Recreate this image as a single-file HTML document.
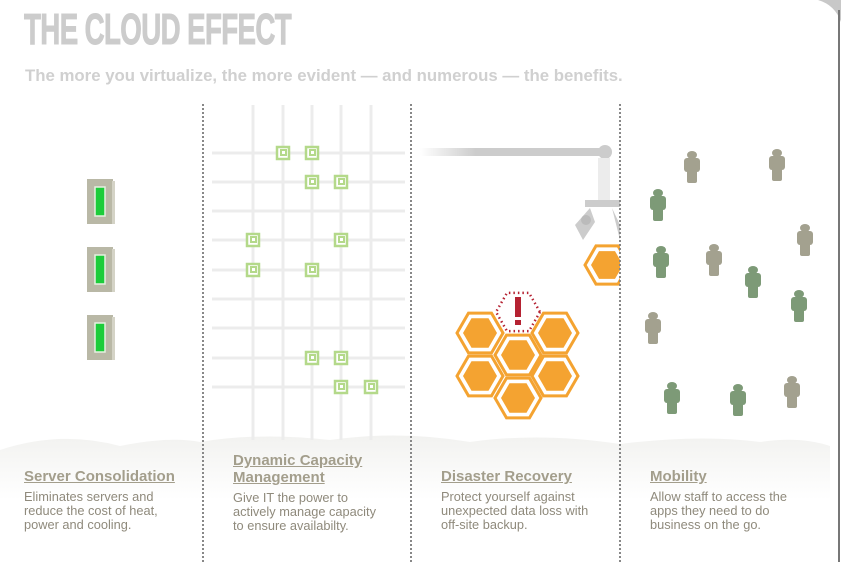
<!DOCTYPE html>
<html><head><meta charset="utf-8"><style>
body{margin:0;background:#fff;width:841px;height:562px;overflow:hidden;position:relative;font-family:"Liberation Sans",sans-serif}
.t{position:absolute;left:24px;top:5px;font:bold 44px "Liberation Sans Narrow","Liberation Sans",sans-serif;color:#cccccc;letter-spacing:-1px;transform:scaleX(.63);transform-origin:left top;-webkit-text-stroke:1px #cccccc}
.sub{position:absolute;left:25px;top:66px;font-weight:bold;font-size:16.8px;color:#d0d0d0;white-space:nowrap}
.col{position:absolute;top:466px;width:190px}
.col h3{margin:0 0 5px;font-size:15px;color:#a39e8c;text-decoration:underline;line-height:17px}
.col p{margin:0;font-size:12.8px;color:#8f8a7c;line-height:14px}
</style></head><body>
<svg width="841" height="562" style="position:absolute;left:0;top:0">
<defs><linearGradient id="cl" x1="0" y1="0" x2="0" y2="1"><stop offset="0" stop-color="#f2f2f0"/><stop offset="1" stop-color="#fff"/></linearGradient>
<linearGradient id="bar" x1="0" y1="0" x2="1" y2="0"><stop offset="0" stop-color="#fff"/><stop offset=".3" stop-color="#ccc"/><stop offset="1" stop-color="#ccc"/></linearGradient></defs>
<path d="M818 0 Q835 5 841 22 L841 0Z" fill="#c8c8c8"/>
<line x1="839" y1="10" x2="839" y2="562" stroke="#777" stroke-width="2"/>
<path d="M0 450 Q60 430 120 446 Q170 436 200 442 Q260 432 330 440 Q400 430 470 442 Q540 432 620 444 Q700 434 760 442 Q800 436 830 446 L830 500 L0 500Z" fill="url(#cl)"/>
<g id="grid" stroke="#ececec" stroke-width="3"></g>
<g id="sq"></g>
<g id="srv"></g>
<rect x="420" y="148" width="185" height="8" fill="url(#bar)"/>
<circle cx="605" cy="152" r="7" fill="#ccc"/>
<rect x="598" y="158" width="12" height="42" fill="#ececec"/>
<rect x="585" y="200" width="35" height="7" fill="#ccc"/>
<path d="M590 208 L575 225 L583 240 L595 222Z M612 208 L620 225 L620 240Z" fill="#ccc"/>
<circle cx="586" cy="220" r="5" fill="#bbb"/>
<g id="hex"></g>
<g id="ppl"></g>
<g stroke="#888" stroke-width="2" stroke-dasharray="2 2">
<line x1="203" y1="104" x2="203" y2="562"/><line x1="411" y1="104" x2="411" y2="562"/><line x1="620" y1="104" x2="620" y2="562"/></g>
</svg>
<div class="t">THE CLOUD EFFECT</div>
<div class="sub">The more you virtualize, the more evident — and numerous — the benefits.</div>
<div class="col" style="left:24px;top:468px"><h3>Server Consolidation</h3><p>Eliminates servers and<br>reduce the cost of heat,<br>power and cooling.</p></div>
<div class="col" style="left:233px;top:452px"><h3>Dynamic Capacity<br>Management</h3><p>Give IT the power to<br>actively manage capacity<br>to ensure availabilty.</p></div>
<div class="col" style="left:441px;top:468px"><h3>Disaster Recovery</h3><p>Protect yourself against<br>unexpected data loss with<br>off-site backup.</p></div>
<div class="col" style="left:650px;top:468px"><h3>Mobility</h3><p>Allow staff to access the<br>apps they need to do<br>business on the go.</p></div>
<script>
const NS='http://www.w3.org/2000/svg';
function mk(p,t,a){const e=document.createElementNS(NS,t);for(const k in a)e.setAttribute(k,a[k]);p.appendChild(e);return e;}
const vx=[253,283,312,341,371], hy=[153,182,211,240,270,299,328,358,387];
const g=document.getElementById('grid');
vx.forEach(x=>mk(g,'line',{x1:x,y1:105,x2:x,y2:440}));
hy.forEach(y=>mk(g,'line',{x1:212,y1:y,x2:405,y2:y}));
const sqs=[[283,153],[312,153],[312,182],[341,182],[253,240],[341,240],[253,270],[312,270],[312,358],[341,358],[341,387],[371,387]];
const sg=document.getElementById('sq');
sqs.forEach(([x,y])=>{mk(sg,'rect',{x:x-6,y:y-6,width:12,height:12,fill:'#fff',stroke:'#b4d98a','stroke-width':2.5});mk(sg,'rect',{x:x-2,y:y-3,width:5,height:5,fill:'none',stroke:'#b4d98a','stroke-width':2});});
const sv=document.getElementById('srv');
[179,247,315].forEach(y=>{const r=mk(sv,'rect',{x:87,y:y,width:26,height:45,fill:'#b9b8a6'});mk(sv,'rect',{x:112,y:y+2,width:3,height:43,fill:'#d4d3c6'});mk(sv,'rect',{x:95,y:y+8,width:10,height:29,fill:'#1ccc3a',stroke:'#e6f0e0','stroke-width':1.5});});
const hg=document.getElementById('hex');
function hp(cx,cy,r){let s=[];for(let i=0;i<6;i++){const a=Math.PI/3*i;s.push((cx+r*Math.cos(a)).toFixed(1)+','+(cy+r*Math.sin(a)).toFixed(1));}return s.join(' ');}
function hx(cx,cy){mk(hg,'polygon',{points:hp(cx,cy,23),fill:'#fff',stroke:'#f4a331','stroke-width':3});mk(hg,'polygon',{points:hp(cx,cy,17),fill:'#f4a331'});}
[[480,333],[555,333],[518,355],[480,376],[555,376],[518,398]].forEach(([x,y])=>hx(x,y));
mk(hg,'polygon',{points:hp(518,312,22),fill:'none',stroke:'#b52232','stroke-width':2.5,'stroke-dasharray':'1.5 3'});
mk(hg,'rect',{x:515,y:297,width:6,height:20,fill:'#b52232'});mk(hg,'rect',{x:515,y:320,width:6,height:5,fill:'#b52232'});
const cp=mk(hg,'clipPath',{id:'c1'});mk(cp,'rect',{x:570,y:230,width:50,height:70});
const h2=mk(hg,'g',{'clip-path':'url(#c1)'});
mk(h2,'polygon',{points:hp(607,265,22),fill:'#fff',stroke:'#f4a331','stroke-width':3});mk(h2,'polygon',{points:hp(607,265,16),fill:'#f4a331'});
const ppl=[[692,155,0],[777,153,0],[658,193,1],[805,228,0],[661,250,1],[714,248,0],[753,270,1],[799,294,1],[653,316,0],[672,386,1],[738,388,1],[792,380,0]];
const pg=document.getElementById('ppl');
ppl.forEach(([x,y,c])=>{const col=c?'#7d9a77':'#a3a18f';const p=mk(pg,'g',{fill:col});mk(p,'ellipse',{cx:x,cy:y,rx:5,ry:4});mk(p,'rect',{x:x-8,y:y+3,width:16,height:14,rx:3});mk(p,'rect',{x:x-5,y:y+10,width:10,height:18,rx:2});});
</script>
</body></html>
